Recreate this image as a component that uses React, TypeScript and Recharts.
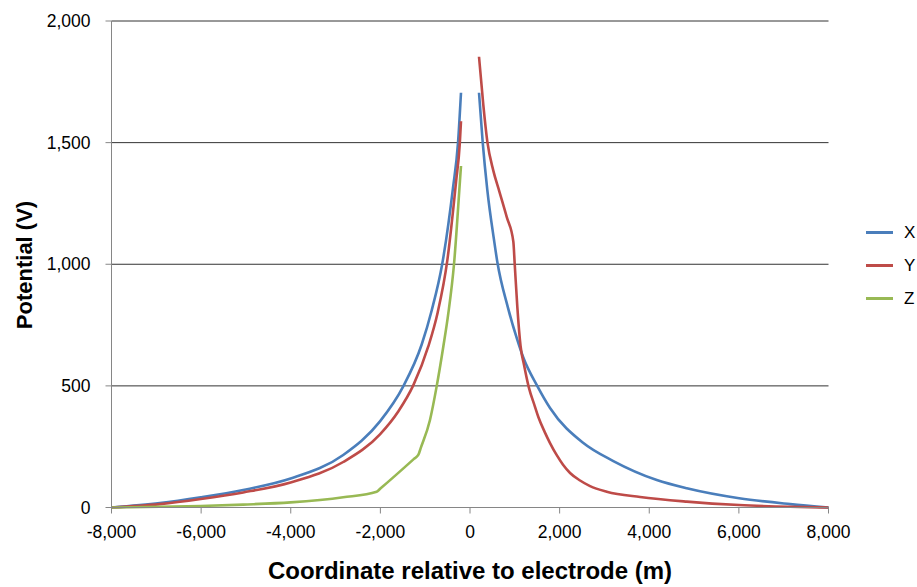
import { CartesianGrid, Legend, Line, LineChart, XAxis, YAxis } from "recharts";

// Potential profiles along three axes through the electrode.
// Coordinates in metres, potential in volts; null marks the gap at the electrode.
const coordX = [-8000, -6921, -6006, -5061, -4003, -2829, -2009, -1489, -1078, -855, -618, -380, -268, -201, 0, 201, 284, 386, 536, 610, 842, 1056, 1183, 1503, 1786, 2530, 3199, 4168, 4838, 6006, 7145, 8000];
const potentialX = [0, 18, 42, 72, 119, 216, 354, 498, 670, 810, 1003, 1313, 1498, 1705, null, 1705, 1500, 1306, 1100, 1009, 825, 689, 620, 499, 409, 265, 191, 113, 79, 38, 14, 0];

const coordY = [-8000, -6921, -6006, -5061, -4003, -2829, -2009, -1601, -1266, -931, -721, -507, -313, -228, -201, 0, 201, 297, 386, 520, 654, 819, 967, 998, 1056, 1128, 1206, 1311, 1445, 1525, 1668, 1786, 1936, 2076, 2233, 2456, 2679, 3052, 3796, 4838, 6006, 7145, 8000];
const potentialY = [0, 14, 35, 62, 103, 187, 301, 395, 502, 662, 802, 1015, 1336, 1496, 1588, null, 1853, 1655, 1505, 1385, 1300, 1195, 1093, 1000, 825, 664, 586, 495, 417, 372, 310, 265, 215, 176, 142, 111, 88, 65, 43, 24, 10, 3, 0];

const coordZ = [-8000, -6921, -6006, -5061, -4003, -2829, -2083, -2000, -1250, -1154, -1100, -893, -743, -596, -484, -357, -223, -201];
const potentialZ = [0, 3, 6, 12, 21, 42, 65, 78, 200, 216, 244, 360, 499, 661, 798, 1000, 1346, 1404];

const xTicks = [-8000, -6000, -4000, -2000, 0, 2000, 4000, 6000, 8000];
const yTicks = [0, 500, 1000, 1500, 2000];

const SERIES = [
  { name: "X", color: "#4a7ebb", coords: coordX, values: potentialX },
  { name: "Y", color: "#be4b48", coords: coordY, values: potentialY },
  { name: "Z", color: "#98b954", coords: coordZ, values: potentialZ },
];

const FONT = "'Liberation Sans', Arial, sans-serif";
const AXIS_GREY = "#868686";

const fmt = (v: number) => v.toLocaleString("en-US");

function LegendBox({ payload }: any) {
  return (
    <div style={{ fontFamily: FONT, fontSize: 17, color: "#000" }}>
      {(payload || []).map((entry: any) => (
        <div
          key={entry.value}
          style={{ display: "flex", alignItems: "center", height: 33 }}
        >
          <div
            style={{
              width: 27,
              height: 3,
              background: entry.color,
              marginRight: 11,
            }}
          />
          <span>{entry.value}</span>
        </div>
      ))}
    </div>
  );
}

export default function App() {
  return (
    <div style={{ position: "absolute", left: 0, top: 0, background: "#fff" }}>
      <LineChart
        width={917}
        height={587}
        margin={{ top: 21, right: 88.5, bottom: 19.5, left: 0 }}
      >
        <CartesianGrid vertical={false} stroke="#333" />
        <XAxis
          type="number"
          dataKey="x"
          domain={[-8000, 8000]}
          ticks={xTicks}
          tickFormatter={fmt}
          height={60}
          axisLine={{ stroke: AXIS_GREY }}
          tickLine={{ stroke: AXIS_GREY }}
          tickSize={6}
          tickMargin={12}
          tick={{ fill: "#000", fontSize: 17.5, fontFamily: FONT }}
          label={{
            content: () => (
              <text
                x={470}
                y={579}
                textAnchor="middle"
                fontFamily={FONT}
                fontWeight="bold"
                fontSize={24}
                fill="#000"
              >
                Coordinate relative to electrode (m)
              </text>
            ),
          }}
        />
        <YAxis
          type="number"
          domain={[0, 2000]}
          ticks={yTicks}
          tickFormatter={fmt}
          width={111.5}
          axisLine={{ stroke: AXIS_GREY }}
          tickLine={{ stroke: AXIS_GREY }}
          tickSize={6}
          tickMargin={15}
          tick={{ fill: "#000", fontSize: 17.5, fontFamily: FONT }}
          label={{
            content: () => (
              <text
                x={32}
                y={265}
                transform="rotate(-90 32 265)"
                textAnchor="middle"
                fontFamily={FONT}
                fontWeight="bold"
                fontSize={22}
                fill="#000"
              >
                Potential (V)
              </text>
            ),
          }}
        />
        <Legend
          layout="vertical"
          align="center"
          verticalAlign="middle"
          content={<LegendBox />}
          wrapperStyle={{ left: 866, top: 216, width: 51 }}
        />
        {SERIES.map((s) => (
          <Line
            key={s.name}
            name={s.name}
            data={s.coords.map((x, i) => ({ x, v: s.values[i] }))}
            dataKey="v"
            type="monotone"
            stroke={s.color}
            strokeWidth={2.6}
            dot={false}
            activeDot={false}
            connectNulls={false}
            isAnimationActive={false}
          />
        ))}
      </LineChart>
    </div>
  );
}
